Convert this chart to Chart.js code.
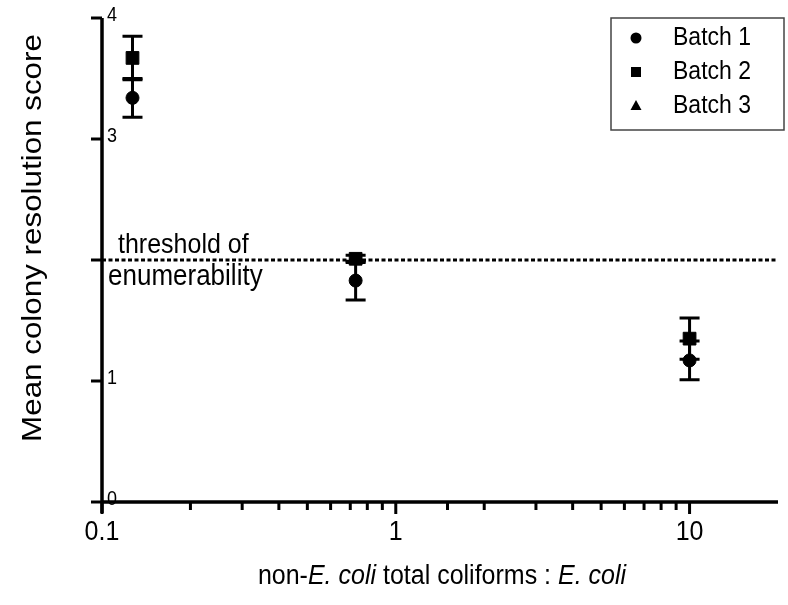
<!DOCTYPE html>
<html>
<head>
<meta charset="utf-8">
<script src="https://cdn.jsdelivr.net/npm/chart.js@4.4.1/dist/chart.umd.min.js"></script>
<style>
    html, body { margin: 0; padding: 0; background: #ffffff; }
</style>
</head>
<body>
<canvas id="grafico" width="788" height="605"></canvas>
<script>
// dados
const razoes = [0.127, 0.73, 10];
const batch1 = [3.34, 1.83, 1.17];
const batch1Err = [0.16, 0.16, 0.16];
const batch2 = [3.67, 2.01, 1.35];
const batch2Err = [0.18, 0.03, 0.17];
const batch3 = [];
const batch3Err = [];
const yTicks = [0, 1, 2, 3, 4];
const yRotulos = ["0", "1", "", "3", "4"];
const xRotulos = [0.1, 1, 10];
const limiar = 2;
const limiarTexto = ["threshold of", "enumerability"];

const ESTICA = 1.1; // o texto da figura original parece esticado na vertical
const FONTE = '"Liberation Sans", Arial, sans-serif';

function texto(ctx, str, x, y, tamanho, alinhamento, base, rodar) {
    ctx.save();
    ctx.translate(x, y);
    if (rodar) {
        ctx.rotate(-Math.PI / 2);
        ctx.scale(ESTICA, 1);
    } else {
        ctx.scale(1, ESTICA);
    }
    ctx.font = tamanho + "px " + FONTE;
    ctx.textAlign = alinhamento;
    ctx.textBaseline = base;
    ctx.fillStyle = "#000000";
    ctx.fillText(str, 0, 0);
    ctx.restore();
}

function barras(chart, ys, erros) {
    const ctx = chart.ctx;
    const sx = chart.scales.x;
    const sy = chart.scales.y;
    ctx.save();
    ctx.strokeStyle = "#000000";
    ctx.lineWidth = 3;
    ys.forEach((v, i) => {
        const px = sx.getPixelForValue(razoes[i]);
        const cima = sy.getPixelForValue(v + erros[i]);
        const baixo = sy.getPixelForValue(v - erros[i]);
        ctx.beginPath();
        ctx.moveTo(px, cima);
        ctx.lineTo(px, baixo);
        ctx.moveTo(px - 10, cima);
        ctx.lineTo(px + 10, cima);
        ctx.moveTo(px - 10, baixo);
        ctx.lineTo(px + 10, baixo);
        ctx.stroke();
    });
    ctx.restore();
}

const extras = {
    id: "extras",
    beforeDatasetsDraw(chart) {
        const ctx = chart.ctx;
        const area = chart.chartArea;
        const sy = chart.scales.y;

        // linha tracejada do limiar
        const yl = sy.getPixelForValue(limiar);
        ctx.save();
        ctx.strokeStyle = "#000000";
        ctx.lineWidth = 3;
        ctx.setLineDash([4, 2.5]);
        ctx.beginPath();
        ctx.moveTo(area.left, yl);
        ctx.lineTo(area.right, yl);
        ctx.stroke();
        ctx.restore();

        texto(ctx, limiarTexto[0], area.left + 16, yl - 7, 25, "left", "alphabetic");
        texto(ctx, limiarTexto[1], area.left + 6, yl + 25, 26, "left", "alphabetic");

        barras(chart, batch1, batch1Err);
        barras(chart, batch2, batch2Err);
        barras(chart, batch3, batch3Err);
    },
    afterDraw(chart) {
        const ctx = chart.ctx;
        const area = chart.chartArea;
        const sx = chart.scales.x;
        const sy = chart.scales.y;

        ctx.save();
        ctx.strokeStyle = "#000000";
        ctx.lineWidth = 3.5;
        // eixos
        ctx.beginPath();
        ctx.moveTo(area.left, area.top);
        ctx.lineTo(area.left, area.bottom + 11);
        ctx.moveTo(area.left, area.bottom);
        ctx.lineTo(area.right, area.bottom);
        ctx.stroke();

        // marcas do eixo y
        ctx.lineWidth = 3;
        yTicks.forEach((v, i) => {
            const py = sy.getPixelForValue(v);
            ctx.beginPath();
            ctx.moveTo(area.left - 11, py);
            ctx.lineTo(area.left, py);
            ctx.stroke();
            texto(ctx, yRotulos[i], area.left + 5, py - 2, 18, "left", "middle");
        });

        // marcas do eixo x (geradas pelo Chart.js)
        sx.ticks.forEach((t) => {
            if (t.value > 10) return;
            const px = sx.getPixelForValue(t.value);
            const maior = xRotulos.includes(t.value);
            ctx.beginPath();
            ctx.moveTo(px, area.bottom);
            ctx.lineTo(px, area.bottom + (maior ? 12 : 8));
            ctx.stroke();
        });
        ctx.restore();

        xRotulos.forEach((v) => {
            texto(ctx, String(v), sx.getPixelForValue(v), area.bottom + 30, 25, "center", "middle");
        });

        // titulo do eixo y
        texto(ctx, "Mean colony resolution score", 33, 238, 28.5, "center", "middle", true);

        // titulo do eixo x com partes em italico
        const partes = [["non-", ""], ["E. coli", "italic "], [" total coliforms : ", ""], ["E. coli", "italic "]];
        ctx.save();
        let total = 0;
        partes.forEach((p) => {
            ctx.font = p[1] + "25px " + FONTE;
            total += ctx.measureText(p[0]).width;
        });
        let x0 = 442 - total / 2;
        ctx.translate(0, 576);
        ctx.scale(1, ESTICA);
        ctx.textBaseline = "middle";
        ctx.textAlign = "left";
        ctx.fillStyle = "#000000";
        partes.forEach((p) => {
            ctx.font = p[1] + "25px " + FONTE;
            ctx.fillText(p[0], x0, 0);
            x0 += ctx.measureText(p[0]).width;
        });
        ctx.restore();

        // legenda com caixa
        const lx = 611, ly = 18, lw = 173, lh = 112;
        ctx.save();
        ctx.strokeStyle = "#444444";
        ctx.lineWidth = 1.5;
        ctx.strokeRect(lx, ly, lw, lh);
        ctx.restore();
        chart.data.datasets.forEach((ds, i) => {
            const yy = ly + 20 + i * 34;
            const mx = lx + 25;
            ctx.save();
            ctx.fillStyle = "#000000";
            ctx.beginPath();
            if (ds.pointStyle === "circle") {
                ctx.arc(mx, yy, 5.5, 0, Math.PI * 2);
            } else if (ds.pointStyle === "rect") {
                ctx.rect(mx - 5, yy - 5, 10, 10);
            } else {
                ctx.moveTo(mx, yy - 6);
                ctx.lineTo(mx + 5.5, yy + 4);
                ctx.lineTo(mx - 5.5, yy + 4);
                ctx.closePath();
            }
            ctx.fill();
            ctx.restore();
            texto(ctx, ds.label, lx + 62, yy, 23, "left", "middle");
        });
    }
};

const grafico = document.getElementById("grafico");

new Chart(grafico, {
    type: "scatter",
    data: {
        datasets: [{
            label: "Batch 1",
            data: razoes.map((r, i) => ({ x: r, y: batch1[i] })),
            pointStyle: "circle",
            pointRadius: 6.5,
            backgroundColor: "#000000",
            borderColor: "#000000",
            clip: false
        }, {
            label: "Batch 2",
            data: razoes.map((r, i) => ({ x: r, y: batch2[i] })),
            pointStyle: "rect",
            pointRadius: 9,
            backgroundColor: "#000000",
            borderColor: "#000000",
            clip: false
        }, {
            label: "Batch 3",
            data: batch3.map((v, i) => ({ x: razoes[i], y: v })),
            pointStyle: "triangle",
            pointRadius: 7,
            backgroundColor: "#000000",
            borderColor: "#000000",
            clip: false
        }]
    },
    options: {
        responsive: false,
        animation: false,
        layout: {
            padding: { left: 102, top: 18, right: 3, bottom: 103 }
        },
        plugins: {
            legend: { display: false },
            tooltip: { enabled: false }
        },
        scales: {
            x: {
                type: "logarithmic",
                min: 0.1,
                max: 20,
                display: false
            },
            y: {
                type: "linear",
                min: 0,
                max: 4,
                display: false
            }
        }
    },
    plugins: [extras]
});
</script>
</body>
</html>
